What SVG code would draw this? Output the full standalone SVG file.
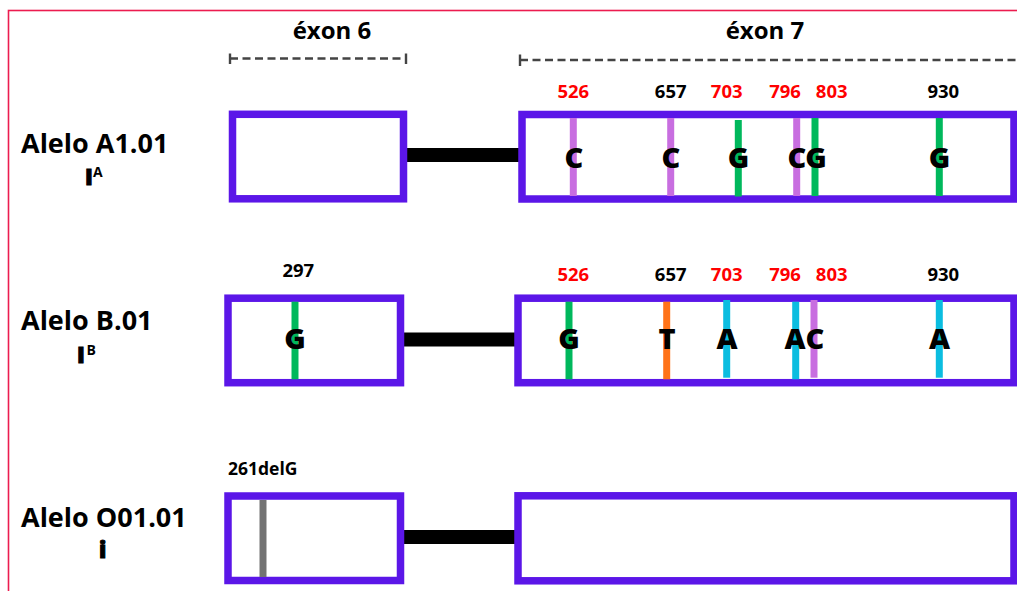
<svg xmlns="http://www.w3.org/2000/svg" width="1017" height="591" viewBox="0 0 1017 591">
<style>
text{font-family:"Open Sans","Liberation Sans",sans-serif;font-weight:700;fill:#000}
.exon{fill:#fff;stroke:#5b16e8;stroke-width:7.5}
.intron{stroke:#000;stroke-width:14}
.snp{stroke-width:7}
.pu{stroke:#c86ee0}.gr{stroke:#00b85c}.cy{stroke:#0bbde0}.or{stroke:#ff7319}.gy{stroke:#737373}
.base{font-size:29px;font-weight:800;text-anchor:middle}
.num{font-size:18.5px;font-weight:700;text-anchor:middle}
.red{fill:#ff0000}
.allele{font-size:27px}
.sym{font-size:22.5px;font-weight:800;stroke:#000;stroke-width:1}
.sup{font-size:14px}
.hdr{font-size:24px;text-anchor:middle}
.dash{stroke:#444;stroke-width:2.4;stroke-dasharray:8 4.5;fill:none}
.tick{stroke:#444;stroke-width:2.4}
</style>
<rect x="8.5" y="10.5" width="1030" height="600" fill="#fff" stroke="#ec1c4f" stroke-width="1.6"/>

<g id="header-exon6">
<text class="hdr" x="332" y="39">éxon 6</text>
<line class="dash" x1="230" y1="58.5" x2="406" y2="58.5"/>
<line class="tick" x1="230" y1="53.5" x2="230" y2="64"/>
<line class="tick" x1="406" y1="53.5" x2="406" y2="64"/>
</g>
<g id="header-exon7">
<text class="hdr" x="765" y="39">éxon 7</text>
<line class="dash" x1="520" y1="60" x2="1017" y2="60"/>
<line class="tick" x1="520" y1="54.5" x2="520" y2="66"/>
</g>

<g id="connectors">
<line class="intron" x1="405" y1="155" x2="520" y2="155"/>
<line class="intron" x1="402" y1="339.5" x2="516" y2="339.5"/>
<line class="intron" x1="402" y1="537" x2="516" y2="537"/>
</g>

<g id="allele-a">
<text class="allele" x="21" y="153">Alelo A1.01</text>
<text class="sym" x="85" y="185">I</text>
<text class="sup" x="93" y="177">A</text>
</g>
<g id="a-exon6">
<rect class="exon" x="232.5" y="114.3" width="171" height="84.5"/>
</g>
<g id="a-exon7">
<rect class="exon" x="522" y="114.5" width="492" height="84.5"/>
<line class="snp pu" x1="573.3" y1="118" x2="573.3" y2="196"/>
<line class="snp pu" x1="670.7" y1="118" x2="670.7" y2="196"/>
<line class="snp gr" x1="738.3" y1="120" x2="738.3" y2="196.5"/>
<line class="snp pu" x1="796.7" y1="118" x2="796.7" y2="196"/>
<line class="snp gr" x1="815" y1="118" x2="815" y2="196"/>
<line class="snp gr" x1="939.3" y1="118" x2="939.3" y2="196"/>
<text class="base" x="574" y="168">C</text>
<text class="base" x="671" y="168">C</text>
<text class="base" x="738.5" y="168">G</text>
<text class="base" x="797" y="168">C</text>
<text class="base" x="816" y="168">G</text>
<text class="base" x="939.5" y="168">G</text>
<text class="num red" x="573.3" y="98">526</text>
<text class="num" x="670.7" y="98">657</text>
<text class="num red" x="726.7" y="98">703</text>
<text class="num red" x="785" y="98">796</text>
<text class="num red" x="831.7" y="98">803</text>
<text class="num" x="943.3" y="98">930</text>
</g>

<g id="allele-b">
<text class="allele" x="21" y="330">Alelo B.01</text>
<text class="sym" x="77" y="363.3">I</text>
<text class="sup" x="86.5" y="354.5">B</text>
</g>
<g id="b-exon6">
<rect class="exon" x="228" y="298.2" width="172.5" height="84.5"/>
<line class="snp gr" x1="295" y1="301.7" x2="295" y2="379.3"/>
<text class="base" x="295" y="349">G</text>
<text class="num" x="298.3" y="277.3" font-size="17.5">297</text>
</g>
<g id="b-exon7">
<rect class="exon" x="518" y="298.2" width="496" height="84.5"/>
<line class="snp gr" x1="569" y1="301.7" x2="569" y2="379.3"/>
<line class="snp or" x1="666.7" y1="301.7" x2="666.7" y2="379.3"/>
<line class="snp cy" x1="726.7" y1="300" x2="726.7" y2="377.7"/>
<line class="snp cy" x1="795.7" y1="301.7" x2="795.7" y2="379.3"/>
<line class="snp pu" x1="814" y1="300" x2="814" y2="377.7"/>
<line class="snp cy" x1="939.3" y1="300" x2="939.3" y2="377.7"/>
<text class="base" x="569" y="349">G</text>
<text class="base" x="667" y="349">T</text>
<text class="base" x="727" y="349">A</text>
<text class="base" x="795" y="349">A</text>
<text class="base" x="815" y="349">C</text>
<text class="base" x="939.5" y="349">A</text>
<text class="num red" x="573.3" y="281">526</text>
<text class="num" x="670.7" y="281">657</text>
<text class="num red" x="726.7" y="281">703</text>
<text class="num red" x="785" y="281">796</text>
<text class="num red" x="831.7" y="281">803</text>
<text class="num" x="943.3" y="281">930</text>
</g>

<g id="allele-o">
<text class="allele" x="21" y="527">Alelo O01.01</text>
<text class="sym" x="99" y="558">i</text>
</g>
<g id="o-exon6">
<rect class="exon" x="228" y="496" width="172.5" height="84.5"/>
<line class="snp gy" x1="263" y1="500" x2="263" y2="577"/>
<text x="228" y="475" font-size="17.5" font-weight="600">261delG</text>
</g>
<g id="o-exon7">
<rect class="exon" x="518" y="495.8" width="496" height="85"/>
</g>
</svg>
